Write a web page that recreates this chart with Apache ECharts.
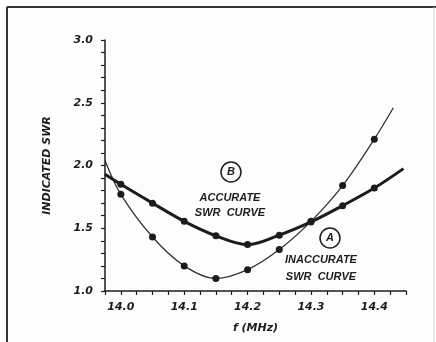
<!DOCTYPE html>
<html>
<head>
<meta charset="utf-8">
<script src="https://cdn.jsdelivr.net/npm/echarts@6/dist/echarts.min.js"></script>
<style>
  html, body { margin: 0; padding: 0; background: #fdfdfd; }
  #chart { width: 436px; height: 342px; }
</style>
</head>
<body>
<div id="chart"></div>
<script>
// readings (the end points carry no dot)
var freqA = [13.975, 14.0, 14.05, 14.1, 14.15, 14.2, 14.25, 14.3, 14.35, 14.4, 14.43];
var swrA  = [2.04, 1.77, 1.43, 1.20, 1.10, 1.17, 1.33, 1.555, 1.84, 2.21, 2.46];
var freqB = [13.975, 14.0, 14.05, 14.1, 14.15, 14.2, 14.25, 14.3, 14.35, 14.4, 14.446];
var swrB  = [1.93, 1.85, 1.70, 1.555, 1.44, 1.37, 1.445, 1.55, 1.68, 1.82, 1.975];
var dotted = [14.0, 14.05, 14.1, 14.15, 14.2, 14.25, 14.3, 14.35, 14.4];
var xLabels = ['14.0', '14.1', '14.2', '14.3', '14.4'];
var yLabels = ['1.0', '1.5', '2.0', '2.5', '3.0'];

var ink = '#1c1c1c';
var font = 'Liberation Sans';
var wide = 'DejaVu Sans';

function points(fs, vs) {
    return fs.map(function (f, i) {
        var marked = dotted.some(function (d) { return Math.abs(d - f) < 1e-6; });
        return marked ? [f, vs[i]] : { value: [f, vs[i]], symbol: 'none' };
    });
}

// only label ticks that sit on a tenth and are in the list
function pick(list, v) {
    if (Math.abs(v * 10 - Math.round(v * 10)) > 1e-6) return '';
    var s = v.toFixed(1);
    return list.indexOf(s) >= 0 ? s : '';
}

var chart = echarts.init(document.getElementById('chart'));
chart.setOption({
    backgroundColor: '#fdfdfd',
    animation: false,
    grid: { left: 105, right: 30, top: 40, bottom: 51 },
    xAxis: {
        type: 'value',
        min: 13.975,
        max: 14.45,
        interval: 0.025,
        name: 'f (MHz)',
        nameLocation: 'middle',
        nameGap: 32,
        nameTextStyle: { color: ink, fontFamily: wide, fontStyle: 'italic', fontWeight: 'bold', fontSize: 11 },
        axisLine: { lineStyle: { color: ink, width: 1.5 } },
        axisTick: { length: 4, lineStyle: { color: ink, width: 1.2 } },
        splitLine: { show: false },
        axisLabel: {
            margin: 11,
            showMinLabel: true, showMaxLabel: true,
            color: ink, fontFamily: wide, fontStyle: 'italic', fontWeight: 'bold', fontSize: 11,
            formatter: function (v) { return pick(xLabels, v); }
        }
    },
    yAxis: {
        type: 'value',
        min: 1.0,
        max: 3.0,
        interval: 0.1,
        name: 'INDICATED SWR',
        nameLocation: 'middle',
        nameGap: 52,
        nameRotate: 90,
        nameTextStyle: { color: ink, fontFamily: wide, fontStyle: 'italic', fontWeight: 'bold', fontSize: 11 },
        axisLine: { lineStyle: { color: ink, width: 1.5 } },
        axisTick: { length: 4, lineStyle: { color: ink, width: 1.2 } },
        splitLine: { show: false },
        axisLabel: {
            margin: 12,
            color: ink, fontFamily: wide, fontStyle: 'italic', fontWeight: 'bold', fontSize: 11,
            formatter: function (v) { return pick(yLabels, v); }
        }
    },
    series: [
        {
            name: 'inaccurate',
            type: 'line',
            smooth: 0.35,
            data: points(freqA, swrA),
            symbol: 'circle',
            symbolSize: 7,
            itemStyle: { color: ink },
            lineStyle: { color: '#333', width: 1.3 }
        },
        {
            name: 'accurate',
            type: 'line',
            smooth: 0.35,
            data: points(freqB, swrB),
            symbol: 'circle',
            symbolSize: 7,
            itemStyle: { color: ink },
            lineStyle: { color: ink, width: 3 }
        }
    ],
    graphic: [
        // frame round the figure
        { type: 'line', shape: { x1: 7, y1: 7, x2: 7, y2: 342 }, style: { stroke: '#333', lineWidth: 2 } },
        { type: 'line', shape: { x1: 7, y1: 7, x2: 436, y2: 7 }, style: { stroke: '#333', lineWidth: 2 } },
        { type: 'line', shape: { x1: 434, y1: 7, x2: 434, y2: 342 }, style: { stroke: '#d6d6d6', lineWidth: 1 } },
        // curve B note
        { type: 'circle', shape: { cx: 231, cy: 172, r: 10 }, style: { fill: 'none', stroke: ink, lineWidth: 1.5 } },
        { type: 'text', x: 231, y: 172, style: { text: 'B', fill: ink, font: 'italic bold 11px ' + font, align: 'center', verticalAlign: 'middle' } },
        { type: 'text', x: 230, y: 198, style: { text: 'ACCURATE', fill: ink, font: 'italic bold 11px ' + font, align: 'center', verticalAlign: 'middle' } },
        { type: 'text', x: 230, y: 213, style: { text: 'SWR  CURVE', fill: ink, font: 'italic bold 11px ' + font, align: 'center', verticalAlign: 'middle' } },
        // curve A note
        { type: 'circle', shape: { cx: 330, cy: 238, r: 10 }, style: { fill: 'none', stroke: ink, lineWidth: 1.5 } },
        { type: 'text', x: 330, y: 238, style: { text: 'A', fill: ink, font: 'italic bold 11px ' + font, align: 'center', verticalAlign: 'middle' } },
        { type: 'text', x: 321, y: 260, style: { text: 'INACCURATE', fill: ink, font: 'italic bold 11px ' + font, align: 'center', verticalAlign: 'middle' } },
        { type: 'text', x: 321, y: 277, style: { text: 'SWR  CURVE', fill: ink, font: 'italic bold 11px ' + font, align: 'center', verticalAlign: 'middle' } }
    ]
});
</script>
</body>
</html>
